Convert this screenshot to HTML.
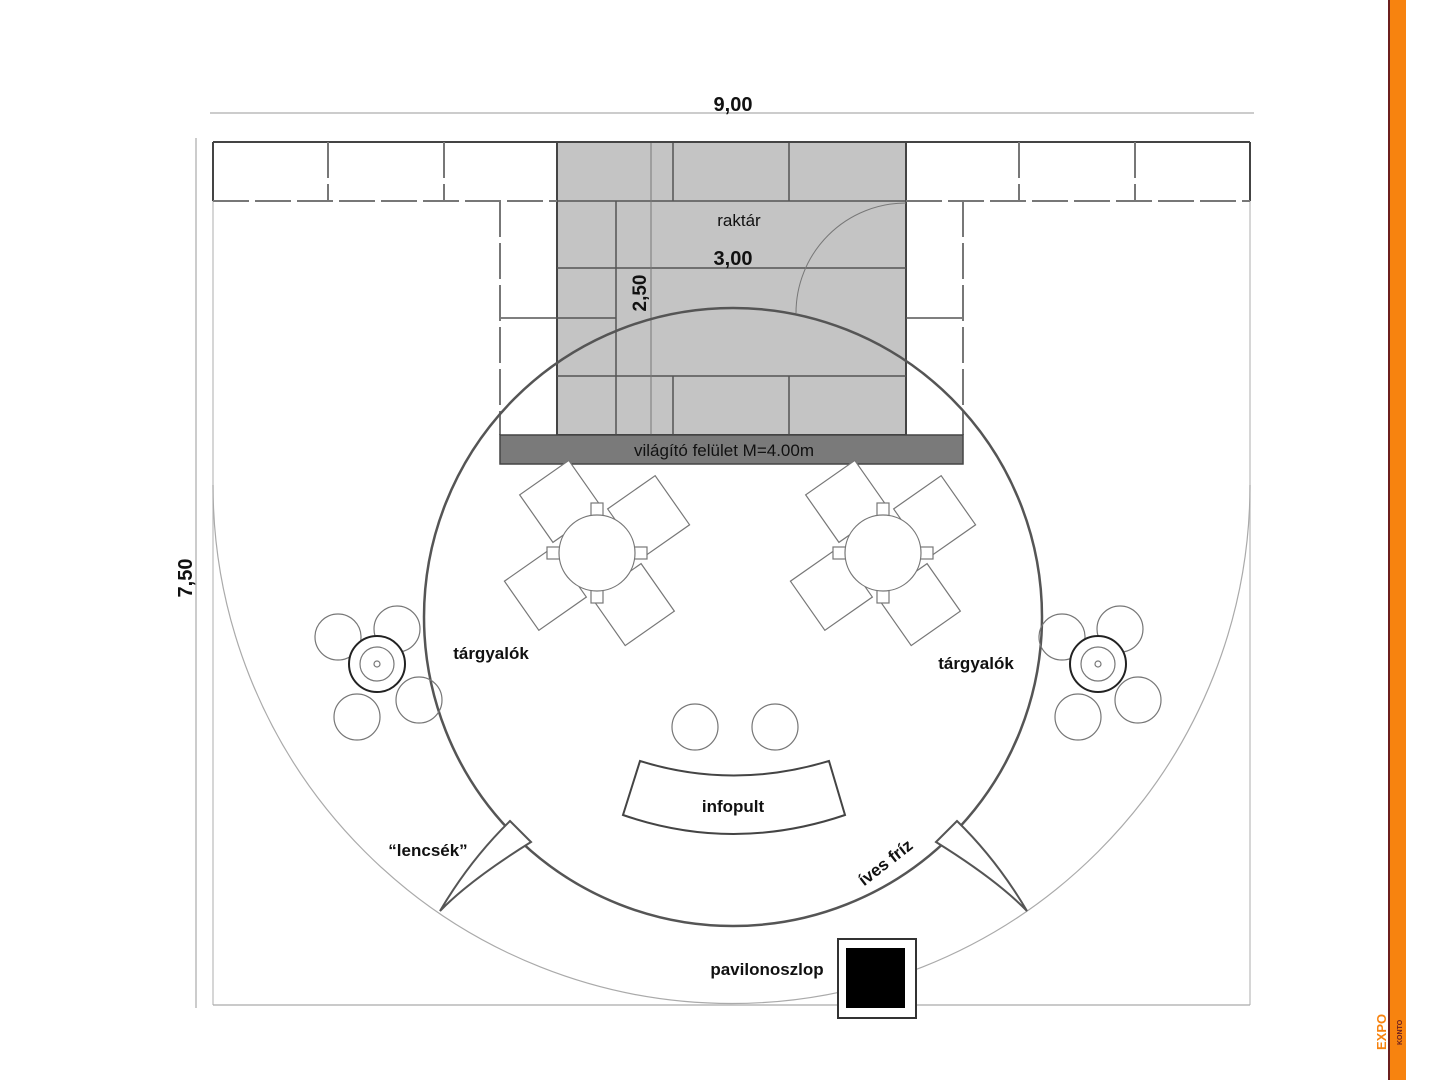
<!DOCTYPE html>
<html><head><meta charset="utf-8"><style>
html,body{margin:0;padding:0;background:#fff;}
svg{display:block;}
text{font-family:"Liberation Sans",sans-serif;font-weight:bold;fill:#111;}
</style></head><body>
<svg width="1434" height="1080" viewBox="0 0 1434 1080" xmlns="http://www.w3.org/2000/svg">
<rect width="1434" height="1080" fill="#fff"/>
<rect x="1388" y="0" width="2" height="1080" fill="#6b1f1f"/>
<rect x="1390" y="0" width="16" height="1080" fill="#f7830f"/>
<text x="0" y="0" font-size="13" style="fill:#f7830f" transform="translate(1386 1050) rotate(-90)">EXPO</text>
<text x="0" y="0" font-size="7" style="fill:#6b1f1f" transform="translate(1402 1045) rotate(-90)">KONTO</text>

<line x1="210" y1="113" x2="1254" y2="113" stroke="#999" stroke-width="1"/>
<text x="733" y="111" font-size="20" text-anchor="middle">9,00</text>
<line x1="196" y1="138" x2="196" y2="1008" stroke="#999" stroke-width="1"/>
<text x="0" y="0" font-size="20" text-anchor="middle" transform="translate(192 578) rotate(-90)">7,50</text>

<line x1="213" y1="201" x2="213" y2="1005" stroke="#bbb" stroke-width="1.2"/>
<line x1="1250" y1="201" x2="1250" y2="1005" stroke="#bbb" stroke-width="1.2"/>
<line x1="213" y1="1005" x2="1250" y2="1005" stroke="#aaa" stroke-width="1.2"/>

<rect x="557" y="142" width="349" height="293" fill="#c4c4c4" stroke="#444" stroke-width="2"/>
<g stroke="#555" stroke-width="1.5" fill="none">
<line x1="557" y1="201" x2="906" y2="201"/>
<line x1="557" y1="268" x2="906" y2="268"/>
<line x1="557" y1="376" x2="906" y2="376"/>
<line x1="616" y1="201" x2="616" y2="435"/>
<line x1="673" y1="142" x2="673" y2="201"/>
<line x1="789" y1="142" x2="789" y2="201"/>
<line x1="673" y1="376" x2="673" y2="435"/>
<line x1="789" y1="376" x2="789" y2="435"/>
<line x1="500" y1="318" x2="616" y2="318"/>
<line x1="906" y1="318" x2="963" y2="318"/>
</g>
<line x1="651" y1="142" x2="651" y2="435" stroke="#777" stroke-width="1"/>
<path d="M906 203 A110 110 0 0 0 796 313" fill="none" stroke="#777" stroke-width="1"/>
<text x="739" y="226" font-size="17" text-anchor="middle" style="font-weight:normal">raktár</text>
<text x="733" y="265" font-size="20" text-anchor="middle">3,00</text>
<text x="0" y="0" font-size="19" text-anchor="middle" transform="translate(646 293) rotate(-90)">2,50</text>

<g stroke="#444" stroke-width="2" fill="none">
<line x1="213" y1="142" x2="1250" y2="142"/>
<line x1="213" y1="142" x2="213" y2="201"/>
<line x1="1250" y1="142" x2="1250" y2="201"/>
</g>
<g stroke="#777" stroke-width="2" fill="none" stroke-dasharray="36 6">
<line x1="213" y1="201" x2="557" y2="201"/>
<line x1="906" y1="201" x2="1250" y2="201"/>
<line x1="328" y1="142" x2="328" y2="201"/>
<line x1="444" y1="142" x2="444" y2="201"/>
<line x1="1019" y1="142" x2="1019" y2="201"/>
<line x1="1135" y1="142" x2="1135" y2="201"/>
<line x1="500" y1="201" x2="500" y2="435"/>
<line x1="963" y1="201" x2="963" y2="435"/>
</g>

<rect x="500" y="435" width="463" height="29" fill="#7a7a7a" stroke="#444" stroke-width="1.5"/>
<text x="724" y="456" font-size="17" text-anchor="middle" style="font-weight:normal">világító felület M=4.00m</text>

<path d="M213 485 A518.5 518.5 0 0 0 1250 485" fill="none" stroke="#aaa" stroke-width="1.2"/>
<circle cx="733" cy="617" r="309" fill="none" stroke="#555" stroke-width="2.5"/>

<g fill="#fff" stroke="#777" stroke-width="1.2">
 <g transform="translate(597 553)">
  <g transform="rotate(-35)"><rect x="-30" y="-92" width="60" height="58"/></g>
  <g transform="rotate(55)"><rect x="-30" y="-92" width="60" height="58"/></g>
  <g transform="rotate(145)"><rect x="-30" y="-92" width="60" height="58"/></g>
  <g transform="rotate(235)"><rect x="-30" y="-92" width="60" height="58"/></g>
  <rect x="-6" y="-50" width="12" height="14"/><rect x="-6" y="36" width="12" height="14"/>
  <rect x="-50" y="-6" width="14" height="12"/><rect x="36" y="-6" width="14" height="12"/>
  <circle r="38"/>
 </g>
 <g transform="translate(883 553)">
  <g transform="rotate(-35)"><rect x="-30" y="-92" width="60" height="58"/></g>
  <g transform="rotate(55)"><rect x="-30" y="-92" width="60" height="58"/></g>
  <g transform="rotate(145)"><rect x="-30" y="-92" width="60" height="58"/></g>
  <g transform="rotate(235)"><rect x="-30" y="-92" width="60" height="58"/></g>
  <rect x="-6" y="-50" width="12" height="14"/><rect x="-6" y="36" width="12" height="14"/>
  <rect x="-50" y="-6" width="14" height="12"/><rect x="36" y="-6" width="14" height="12"/>
  <circle r="38"/>
 </g>
</g>

<g fill="none" stroke="#777" stroke-width="1.2">
 <circle cx="338" cy="637" r="23"/><circle cx="397" cy="629" r="23"/><circle cx="419" cy="700" r="23"/><circle cx="357" cy="717" r="23"/>
 <circle cx="377" cy="664" r="28" fill="#fff" stroke="#222" stroke-width="2"/><circle cx="377" cy="664" r="17"/><circle cx="377" cy="664" r="3"/>
 <circle cx="1062" cy="637" r="23"/><circle cx="1120" cy="629" r="23"/><circle cx="1078" cy="717" r="23"/><circle cx="1138" cy="700" r="23"/>
 <circle cx="1098" cy="664" r="28" fill="#fff" stroke="#222" stroke-width="2"/><circle cx="1098" cy="664" r="17"/><circle cx="1098" cy="664" r="3"/>
 <circle cx="695" cy="727" r="23"/><circle cx="775" cy="727" r="23"/>
</g>
<text x="491" y="659" font-size="17" text-anchor="middle">tárgyalók</text>
<text x="976" y="669" font-size="17" text-anchor="middle">tárgyalók</text>

<path d="M640 761 Q733 790 829 761 L845 815 Q733 853 623 815 Z" fill="#fff" stroke="#444" stroke-width="2"/>
<text x="733" y="812" font-size="17" text-anchor="middle">infopult</text>

<path d="M510 821 L531 842 Q470 880 440 911 Q470 860 510 821 Z" fill="#fff" stroke="#555" stroke-width="2"/>
<path d="M957 821 L936 842 Q997 880 1027 911 Q997 860 957 821 Z" fill="#fff" stroke="#555" stroke-width="2"/>
<text x="428" y="856" font-size="17" text-anchor="middle">“lencsék”</text>
<text x="0" y="0" font-size="17" text-anchor="middle" transform="translate(889 867) rotate(-38)">íves fríz</text>

<rect x="838" y="939" width="78" height="79" fill="#fff" stroke="#333" stroke-width="2"/>
<rect x="846" y="948" width="59" height="60" fill="#000"/>
<text x="767" y="975" font-size="17" text-anchor="middle">pavilonoszlop</text>
</svg>
</body></html>
